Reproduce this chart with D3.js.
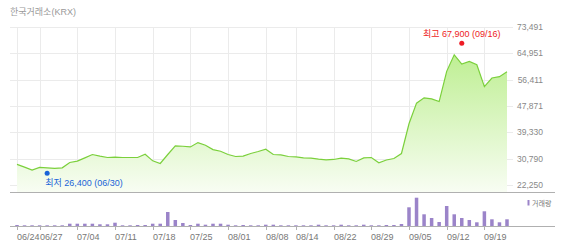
<!DOCTYPE html>
<html>
<head>
<meta charset="utf-8">
<script src="https://cdnjs.cloudflare.com/ajax/libs/d3/7.8.5/d3.min.js"></script>
<style>
    body { margin: 0; background: #fff; }
    #chart { width: 565px; height: 249px; }
    text { font-family: 'Liberation Sans', 'Noto Sans CJK KR', sans-serif; }
</style>
</head>
<body>
<div id="chart"></div>
<script>
const dates = [
    '06/24', '06/25', '06/26', '06/27', '06/30',
    '07/01', '07/02', '07/03', '07/04', '07/07', '07/08', '07/09', '07/10', '07/11',
    '07/14', '07/15', '07/16', '07/17', '07/18', '07/21', '07/22', '07/23', '07/24', '07/25',
    '07/28', '07/29', '07/30', '07/31',
    '08/01', '08/04', '08/05', '08/06', '08/07', '08/08', '08/11', '08/12', '08/13', '08/14',
    '08/18', '08/19', '08/20', '08/21', '08/22', '08/25', '08/26', '08/27', '08/28', '08/29',
    '09/01', '09/02', '09/03', '09/04', '09/05', '09/08', '09/09', '09/10', '09/11', '09/12',
    '09/15', '09/16', '09/17', '09/18', '09/19', '09/22', '09/23', '09/24'
];

const closes = [
    28920, 28050, 27080, 27950, 27830,
    27630, 27830, 29560, 29980, 31050, 32140, 31600, 31170, 31270,
    31170, 31170, 31170, 32240, 30090, 29230, 32140, 34930, 34820, 34600,
    36000, 35140, 33740, 33210,
    32140, 31490, 31600, 32460, 33100, 33850, 32140, 32020, 31490, 31370,
    31050, 30950, 30630, 30400, 30530, 30950, 30730, 29880, 31050, 31170,
    29440, 30350, 30840, 32460, 42120, 48790, 50510, 50180, 49320, 59100,
    64470, 61460, 62320, 61250, 54160, 56950, 57380, 58990
];

// volume, thousand shares
const volumes = [
    100, 70, 70, 70, 70,
    70, 70, 230, 230, 230, 230, 170, 170, 330,
    70, 70, 100, 100, 230, 230, 1400, 600, 300, 100,
    230, 130, 230, 230,
    130, 70, 100, 70, 70, 130, 130, 70, 70, 70,
    70, 70, 130, 70, 70, 130, 70, 70, 130, 70,
    70, 100, 100, 200, 1870, 2830, 1170, 800, 400, 2000,
    1170, 800, 600, 370, 1470, 670, 370, 670
];

const tickDates = ['06/24', '06/27', '07/04', '07/11', '07/18', '07/25', '08/01',
    '08/08', '08/14', '08/22', '08/29', '09/05', '09/12', '09/19'];
const priceTicks = [22250, 30790, 39330, 47871, 56411, 64951, 73491];

const high = { date: '09/16', value: 67900 };
const low = { date: '06/30', value: 26400 };

const data = dates.map((d, i) => ({ date: d, close: closes[i], volume: volumes[i] }));

const width = 565, height = 249;
const plot = { left: 10, right: 513, top: 27, bottom: 192 };
const volBase = 226;

const svg = d3.select('#chart')
    .append('svg')
    .attr('width', width)
    .attr('height', height);

const x = d3.scalePoint()
    .domain(dates)
    .range([17, 507]);

const y = d3.scaleLinear()
    .domain([22250, 73491])
    .range([185, 27]);

const yVol = d3.scaleLinear()
    .domain([0, 3000])
    .range([volBase, 196]);

const fmt = d3.format(',');

// gradient for area
const grad = svg.append('defs').append('linearGradient')
    .attr('id', 'areaFill')
    .attr('gradientUnits', 'userSpaceOnUse')
    .attr('x1', 0).attr('x2', 0)
    .attr('y1', plot.top).attr('y2', plot.bottom);
grad.append('stop').attr('offset', '0%').attr('stop-color', '#b3ec80');
grad.append('stop').attr('offset', '100%').attr('stop-color', '#f8fdf3');

// title
svg.append('text')
    .attr('x', 10)
    .attr('y', 15)
    .style('font-size', '9px')
    .style('fill', '#999')
    .text('한국거래소(KRX)');

// horizontal grid + price labels
svg.append('g')
    .selectAll('line')
    .data(priceTicks)
    .enter()
    .append('line')
    .attr('x1', plot.left)
    .attr('x2', plot.right)
    .attr('y1', d => Math.round(y(d)) + 0.5)
    .attr('y2', d => Math.round(y(d)) + 0.5)
    .attr('stroke', '#ebebeb');

svg.append('g')
    .selectAll('text')
    .data(priceTicks)
    .enter()
    .append('text')
    .attr('x', 543)
    .attr('y', d => y(d) + 3)
    .attr('text-anchor', 'end')
    .style('font-size', '8.5px')
    .style('fill', '#888')
    .text(d => fmt(d));

// vertical grid
svg.append('g')
    .selectAll('line')
    .data(tickDates)
    .enter()
    .append('line')
    .attr('x1', d => Math.round(x(d)) + 0.5)
    .attr('x2', d => Math.round(x(d)) + 0.5)
    .attr('y1', plot.top)
    .attr('y2', plot.bottom)
    .attr('stroke', '#ebebeb');

// area + line
const area = d3.area()
    .x(d => x(d.date))
    .y0(plot.bottom)
    .y1(d => y(d.close));

const line = d3.line()
    .x(d => x(d.date))
    .y(d => y(d.close));

svg.append('path')
    .datum(data)
    .attr('d', area)
    .attr('fill', 'url(#areaFill)');

svg.append('path')
    .datum(data)
    .attr('d', line)
    .attr('fill', 'none')
    .attr('stroke', '#7bd03c')
    .attr('stroke-width', 1.2);

// bottom border of price panel
svg.append('line')
    .attr('x1', plot.left).attr('x2', 555)
    .attr('y1', plot.bottom + 0.5).attr('y2', plot.bottom + 0.5)
    .attr('stroke', '#b0b0b0');

// high / low markers
svg.append('circle')
    .attr('cx', x(high.date))
    .attr('cy', y(high.value) - 1)
    .attr('r', 2.5)
    .attr('fill', '#ee1c25');

svg.append('text')
    .attr('x', x(high.date))
    .attr('y', y(high.value) - 7)
    .attr('text-anchor', 'middle')
    .style('font-size', '9px')
    .style('fill', '#ee1c25')
    .text('최고 ' + fmt(high.value) + ' (' + high.date + ')');

svg.append('circle')
    .attr('cx', x(low.date))
    .attr('cy', y(low.value) + 1)
    .attr('r', 2.5)
    .attr('fill', '#1a64d8');

svg.append('text')
    .attr('x', x(low.date) - 2)
    .attr('y', y(low.value) + 14)
    .style('font-size', '9px')
    .style('fill', '#1a64d8')
    .text('최저 ' + fmt(low.value) + ' (' + low.date + ')');

// volume bars
svg.append('g')
    .selectAll('rect')
    .data(data)
    .enter()
    .append('rect')
    .attr('x', d => x(d.date) - 1.75)
    .attr('y', d => yVol(d.volume))
    .attr('width', 3.5)
    .attr('height', d => volBase - yVol(d.volume))
    .attr('fill', '#9b84c9');

// volume axis
svg.append('line')
    .attr('x1', plot.left).attr('x2', 555)
    .attr('y1', volBase + 0.5).attr('y2', volBase + 0.5)
    .attr('stroke', '#b0b0b0');

const ticks = svg.append('g')
    .selectAll('g')
    .data(tickDates)
    .enter()
    .append('g')
    .attr('transform', d => `translate(${Math.round(x(d)) + 0.5},0)`);

ticks.append('line')
    .attr('y1', volBase)
    .attr('y2', volBase + 4)
    .attr('stroke', '#b0b0b0');

ticks.append('text')
    .attr('x', -0.5)
    .attr('y', 239.5)
    .style('font-size', '9px')
    .style('fill', '#777')
    .text(d => d);

// legend
svg.append('rect')
    .attr('x', 527.5)
    .attr('y', 200)
    .attr('width', 2)
    .attr('height', 5.5)
    .attr('fill', '#9b84c9');

svg.append('text')
    .attr('x', 532)
    .attr('y', 205.5)
    .style('font-family', "'Noto Sans CJK KR', sans-serif")
    .style('font-size', '7px')
    .style('fill', '#777')
    .text('거래량');
</script>
</body>
</html>
